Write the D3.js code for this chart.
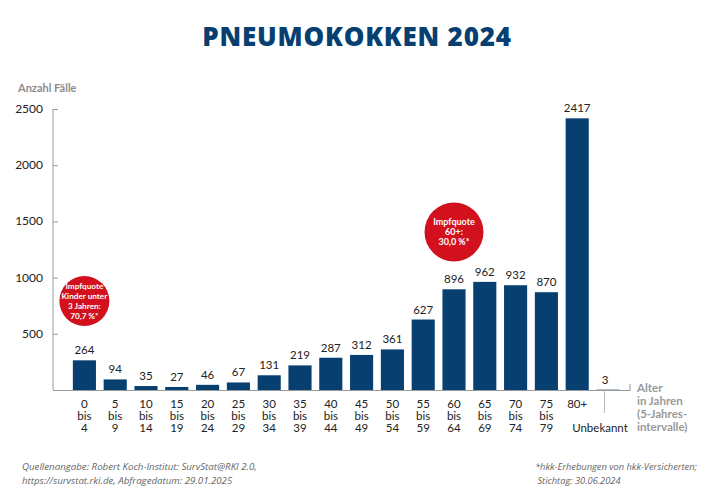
<!DOCTYPE html>
<html><head><meta charset="utf-8">
<script src="https://cdn.jsdelivr.net/npm/d3@7"></script>
<style>
body{margin:0;background:#fff;}
svg{display:block;font-family:Lato,"Open Sans",sans-serif;}
</style></head>
<body><svg id="c" width="710" height="495"></svg>
<script>
const categories = ["0-4","5-9","10-14","15-19","20-24","25-29","30-34","35-39","40-44","45-49","50-54","55-59","60-64","65-69","70-74","75-79","80+","Unbekannt"];
const labelLines = [["0","bis","4"],["5","bis","9"],["10","bis","14"],["15","bis","19"],["20","bis","24"],["25","bis","29"],["30","bis","34"],["35","bis","39"],["40","bis","44"],["45","bis","49"],["50","bis","54"],["55","bis","59"],["60","bis","64"],["65","bis","69"],["70","bis","74"],["75","bis","79"],["80+"],["","","Unbekannt"]];
const values = [264,94,35,27,46,67,131,219,287,312,361,627,896,962,932,870,2417,3];
const yTicks = [500,1000,1500,2000,2500];
const title = "PNEUMOKOKKEN 2024";
const yLabel = "Anzahl Fälle";
const xLabel = ["Alter","in Jahren","(5-Jahres-","intervalle)"];
const badges = [
  {cat:"0-4", value:792, r:25, fs:8.2, lines:["Impfquote","Kinder unter","3 Jahren:","70,7 %*"]},
  {cat:"60-64", value:1406, r:29.5, fs:9, lines:["Impfquote","60+:","30,0 %*"]}
];
const footLeft = ["Quellenangabe: Robert Koch-Institut: SurvStat@RKI 2.0,","https://survstat.rki.de, Abfragedatum: 29.01.2025"];
const footRight = ["*hkk-Erhebungen von hkk-Versicherten;"," Stichtag: 30.06.2024"];

const svg = d3.select("#c");
const blue = "#063f70", red = "#d2101e", grey = "#8c8c8c", axisCol = "#9a9a9a", txt = "#222";

const x = d3.scaleBand().domain(categories).range([69, 623.4]).paddingInner(0.25).paddingOuter(0.125);
const y = d3.scaleLinear().domain([0,2500]).range([390,109]);

svg.append("text").attr("x",357).attr("y",46).attr("text-anchor","middle")
  .attr("font-size",26).attr("font-weight",800).attr("fill",blue).attr("letter-spacing",0.8)
  .style("font-family","'Open Sans',sans-serif").text(title);

svg.append("text").attr("x",18).attr("y",92).attr("font-size",11).attr("font-weight",700)
  .attr("fill",grey).text(yLabel);

// y axis
const yAxis = svg.append("g").attr("transform","translate(53,0)")
  .call(d3.axisRight(y).tickValues(yTicks).tickSize(5).tickFormat(""));
yAxis.select(".domain").remove();
yAxis.selectAll(".tick line").attr("stroke",axisCol);
svg.append("line").attr("x1",53).attr("x2",53).attr("y1",y(2500)).attr("y2",390).attr("stroke",axisCol);
svg.selectAll(".ylab").data(yTicks).join("text").attr("class","ylab")
  .attr("x",43).attr("y",d=>y(d)+4).attr("text-anchor","end").attr("font-size",12).attr("fill",txt).text(d=>d);

// bars
svg.selectAll(".bar").data(values).join("rect").attr("class","bar")
  .attr("x",(d,i)=>x(categories[i])).attr("width",x.bandwidth())
  .attr("y",d=>y(d)).attr("height",d=>390-y(d)).attr("fill",blue);

svg.selectAll(".val").data(values).join("text").attr("class","val")
  .attr("x",(d,i)=>x(categories[i])+x.bandwidth()/2 - (categories[i]==="Unbekannt"?3:0)).attr("y",d=>y(d)-6)
  .attr("text-anchor","middle").attr("font-size",11.5).attr("fill",txt).text(d=>d);

// baseline
svg.append("line").attr("x1",53).attr("x2",630).attr("y1",390.5).attr("y2",390.5).attr("stroke",axisCol);
svg.append("line").attr("x1",630).attr("x2",630).attr("y1",384).attr("y2",391).attr("stroke",axisCol);
const uc = x("Unbekannt")+x.bandwidth()/2 - 3.5;
svg.append("line").attr("x1",uc).attr("x2",uc).attr("y1",390).attr("y2",413).attr("stroke","#bbb");

// x labels
categories.forEach((c,i)=>{
  const cx = x(c)+x.bandwidth()/2;
  labelLines[i].forEach((s,j)=>{
    if(!s) return;
    svg.append("text").attr("text-anchor","middle").attr("font-size",11.5).attr("fill",txt)
      .attr("x", c==="Unbekannt" ? cx-8 : cx).attr("y",407.5+j*12).text(s);
  });
});

// axis title
xLabel.forEach((s,j)=>svg.append("text").attr("font-size",11.5).attr("font-weight",700).attr("fill","#999")
  .attr("x",637).attr("y",392+j*13).text(s));

// badges
badges.forEach(b=>{
  const cx = x(b.cat)+x.bandwidth()/2;
  const cy = y(b.value);
  const g = svg.append("g");
  g.append("circle").attr("cx",cx).attr("cy",cy).attr("r",b.r).attr("fill",red);
  const n = b.lines.length;
  b.lines.forEach((s,j)=>{
    g.append("text").attr("x",cx).attr("y",cy+3+(j-(n-1)/2)*10).attr("text-anchor","middle")
      .attr("font-size",b.fs).attr("font-weight",700).attr("fill","#fff").text(s);
  });
});

// footers
footLeft.forEach((s,j)=>svg.append("text").attr("x",22).attr("y",470+j*14).attr("font-size",9.7)
  .attr("font-style","italic").attr("fill","#666").style("font-family","'Open Sans',sans-serif").text(s));
footRight.forEach((s,j)=>svg.append("text").attr("x",535).attr("y",470+j*14).attr("font-size",9.3)
  .attr("font-style","italic").attr("fill","#666").style("font-family","'Open Sans',sans-serif")
  .attr("xml:space","preserve").text(s));
</script></body></html>
